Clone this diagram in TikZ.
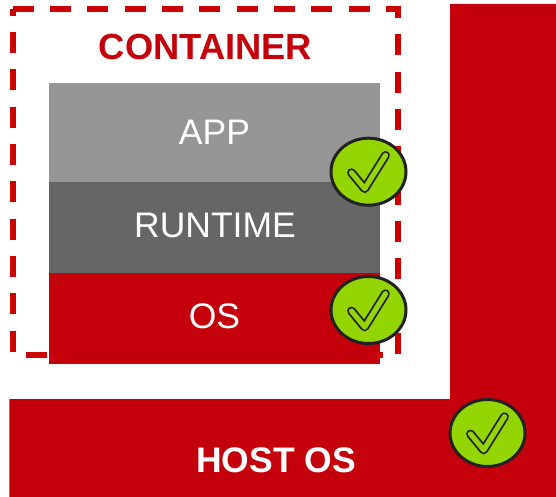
\documentclass[tikz,border=0pt]{standalone}
\usepackage{fontspec}
\setmainfont{Liberation Sans}
\usetikzlibrary{shapes.geometric}
\definecolor{hostred}{HTML}{C4000A}
\definecolor{dashred}{HTML}{CC0000}
\definecolor{okgreen}{HTML}{93D500}
\definecolor{okline}{HTML}{222222}
\definecolor{appgrey}{HTML}{969696}
\definecolor{rungrey}{HTML}{666666}
\tikzset{
  label text/.style={text=white,font=\fontsize{35.5}{40}\selectfont,anchor=base,inner sep=0pt},
  bold text/.style={font=\fontsize{35.5}{40}\selectfont\bfseries,anchor=base,inner sep=0pt},
  check mark/.style={ellipse,draw=okline,fill=okgreen,line width=3pt,inner sep=0pt,minimum width=75pt,minimum height=67pt},
  tick outer/.style={draw=okline,line width=8.8pt,line cap=round,line join=round},
  tick inner/.style={draw=okgreen,line width=5.2pt,line cap=round,line join=round}
}
\newcommand{\tickmark}[1]{%
  \draw[tick outer] ([shift={(-17,1)}]#1.center) -- ([shift={(-3.8,17)}]#1.center) -- ([shift={(17,-16.3)}]#1.center);
  \draw[tick inner] ([shift={(-17,1)}]#1.center) -- ([shift={(-3.8,17)}]#1.center) -- ([shift={(17,-16.3)}]#1.center);
}
\begin{document}
\begin{tikzpicture}[x=1pt,y=-1pt]
\useasboundingbox (0,0) rectangle (556,497);
\fill[white] (0,0) rectangle (556,497);
% host
\fill[hostred] (450,4) -- (556,4) -- (556,497) -- (9.3,497) -- (9.3,399) -- (450,399) -- cycle;
% container outline
\draw[dashred,line width=5.6pt,dash pattern=on 21pt off 16.33pt] (12.7,9) -- (398,9) -- (398,355) -- (12.7,355) -- cycle;
% stack
\fill[appgrey] (49,83) rectangle (380,182);
\fill[rungrey] (49,182) rectangle (380,273);
\fill[hostred] (49,273) rectangle (380,364);
% text
\node[bold text,text=hostred,font=\fontsize{36.3}{40}\selectfont\bfseries] (container) at (205.5,60) {CONTAINER};
\node[label text] (app) at (214.5,145) {APP};
\node[label text] (runtime) at (215,237) {RUNTIME};
\node[label text] (os) at (214.5,328) {OS};
\node[bold text,text=white] (hostos) at (276,472) {HOST OS};
% checks
\node[check mark] (c1) at (368.5,171.7) {};
\node[check mark] (c2) at (368.5,310) {};
\node[check mark] (c3) at (487.5,433) {};
\tickmark{c1}
\tickmark{c2}
\tickmark{c3}
\end{tikzpicture}
\end{document}
